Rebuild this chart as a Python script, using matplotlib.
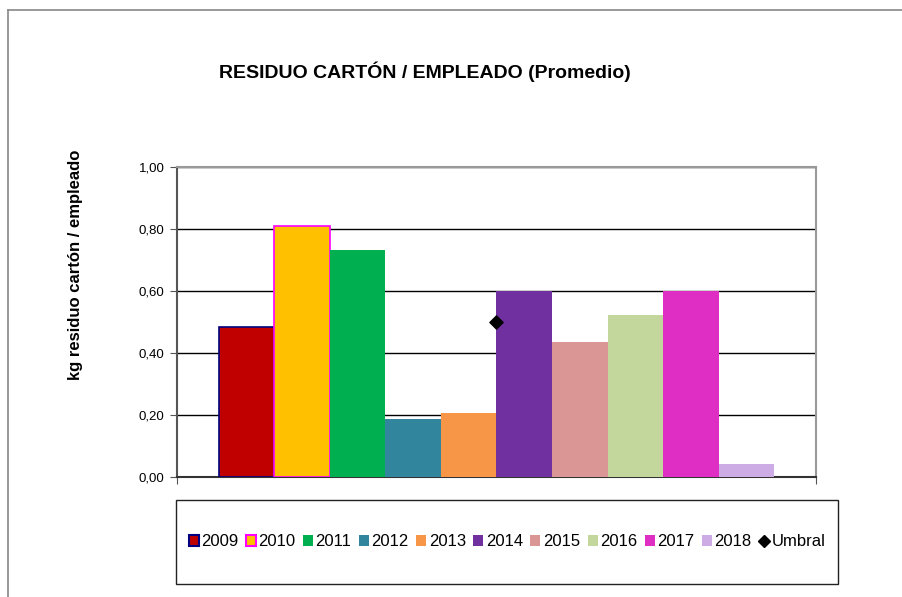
import matplotlib
matplotlib.use("Agg")
import matplotlib.pyplot as plt
from matplotlib.lines import Line2D
from matplotlib.patches import Patch
import numpy as np

plt.rcParams['font.family'] = ['Liberation Sans', 'DejaVu Sans']

years = ['2009', '2010', '2011', '2012', '2013', '2014', '2015', '2016', '2017', '2018']
values = [0.485, 0.81, 0.732, 0.187, 0.207, 0.60, 0.435, 0.523, 0.60, 0.042]
umbral = 0.50
colors = ['#C00000', '#FFC000', '#00B050', '#31859C', '#F79646',
          '#7030A0', '#D99694', '#C3D69B', '#DF2EC4', '#CDACE6']
edges = ['#000080', '#FF00FF', None, None, None, None, None, None, None, None]
yticks = [0.0, 0.2, 0.4, 0.6, 0.8, 1.0]

fig = plt.figure(figsize=(9.02, 5.97), dpi=100)
ax = fig.add_axes([177 / 902, 1 - 477 / 597, (816 - 177) / 902, (477 - 167) / 597])

# one category, ten series side by side (gap width 150%)
n = len(years)
w = 1.0 / (n + 1.5)
start = -0.5 + 0.75 * w
for i, (yr, v) in enumerate(zip(years, values)):
    x = start + (i + 0.5) * w
    ec = edges[i] if edges[i] else colors[i]
    lw = 1.2 if edges[i] else 0
    ax.bar(x, v, width=w, color=colors[i], edgecolor=ec, linewidth=lw, zorder=3)

ax.scatter([0], [umbral], marker='D', s=45, color='black', zorder=4)

ax.set_xlim(-0.5, 0.5)
ax.set_ylim(0, 1.0)
ax.set_yticks(yticks)
ax.set_yticklabels([f"{t:.2f}".replace('.', ',') for t in yticks], fontsize=9.5)
ax.set_xticks([-0.5, 0.5])
ax.set_xticklabels([])
ax.tick_params(axis='both', direction='out', length=5, color='#555555', pad=4)
ax.yaxis.grid(True, color='black', linewidth=1.0, zorder=0)
ax.set_axisbelow(True)

for side in ['top', 'right']:
    ax.spines[side].set_color('#999999')
    ax.spines[side].set_linewidth(1.5)
ax.spines['left'].set_color('#555555')
ax.spines['left'].set_linewidth(1.5)
ax.spines['bottom'].set_color('#333333')
ax.spines['bottom'].set_linewidth(1.5)

ax.set_ylabel('kg residuo cartón / empleado', fontsize=12, fontweight='bold', labelpad=0)
ax.yaxis.set_label_coords(-0.147, 0.683)

fig.text(425 / 902, 1 - 72 / 597, 'RESIDUO CARTÓN / EMPLEADO (Promedio)',
         fontsize=14, fontweight='bold', ha='center', va='center')

# outer chart frame (top and left visible)
fig.add_artist(Line2D([8 / 902, 1.0], [1 - 10 / 597, 1 - 10 / 597], color='#888888', lw=1.2))
fig.add_artist(Line2D([8 / 902, 8 / 902], [0, 1 - 10 / 597], color='#888888', lw=1.2))

handles = []
for i, yr in enumerate(years):
    ec = edges[i] if edges[i] else colors[i]
    handles.append(Patch(facecolor=colors[i], edgecolor=ec, linewidth=1.5 if edges[i] else 0, label=yr))
handles.append(Line2D([], [], marker='D', color='black', linestyle='None', markersize=6, label='Umbral'))

leg = fig.legend(handles=handles, loc='center', ncol=11,
                 bbox_to_anchor=(176 / 902, 1 - 584 / 597, (838 - 176) / 902, 84 / 597),
                 fontsize=12, frameon=False, handlelength=0.6, handleheight=0.6,
                 handletextpad=0.15, columnspacing=0.45, borderaxespad=0)

# box around the legend area like the original
fig.add_artist(plt.Rectangle((176 / 902, 1 - 584 / 597), (838 - 176) / 902, 84 / 597,
                             fill=False, edgecolor='#222222', lw=1.0, transform=fig.transFigure))

fig.savefig('out.png', dpi=100)
